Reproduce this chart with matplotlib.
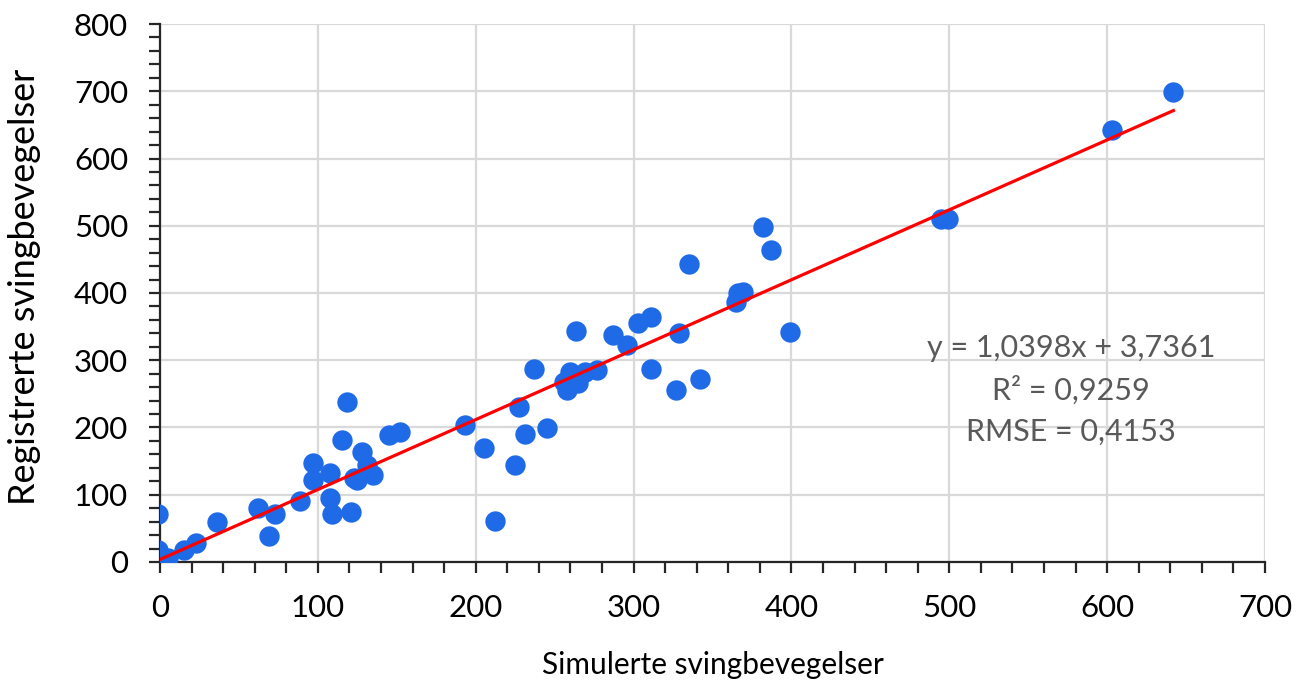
import matplotlib
matplotlib.use("Agg")
import matplotlib.pyplot as plt
from matplotlib.ticker import MultipleLocator
import numpy as np

plt.rcParams['font.family'] = ['Lato', 'DejaVu Sans']

# Simulated vs. registered turning movements
simulated = [
    -1, -1, 1, 5, 15, 23, 36, 62, 69, 73, 89, 97, 97, 108, 108, 109, 115, 118.5,
    121, 123, 125, 128, 131, 135, 145, 152, 193, 205, 212, 225, 227.5, 231,
    237, 245, 256, 258, 260, 263.5, 265, 269, 277, 287, 296, 303, 311, 311,
    327, 329, 335, 342, 365, 366, 369.5, 382, 387, 399, 495, 499, 603, 642,
]
registered = [
    72, 18, 3, 6, 18, 28, 60, 80, 38, 72, 90, 147, 122, 132, 95, 72, 181, 238,
    75, 125, 122, 164, 144, 129, 189, 194, 204, 170, 61, 144, 231, 191,
    287, 199, 268, 256, 283, 343, 266, 283, 286, 338, 323, 355, 364, 287,
    256, 340, 443, 272, 387, 400, 401, 498, 464, 342, 510, 510, 642, 699,
]

slope, intercept = 1.0398, 3.7361
r2, rmse = 0.9259, 0.4153

x_ticks = [0, 100, 200, 300, 400, 500, 600, 700]
y_ticks = [0, 100, 200, 300, 400, 500, 600, 700, 800]

fig = plt.figure(figsize=(13.03, 6.86), dpi=100)
ax = fig.add_axes([0.1228, 0.1808, 0.8480, 0.7842])

ax.scatter(simulated, registered, s=215, color='#1F6AE6', zorder=3, linewidths=0)

x_fit = np.array([min(simulated) + 1, max(simulated)])
ax.plot(x_fit, slope * x_fit + intercept, color='#FF0000', lw=2.3, zorder=4)

ax.set_xlim(0, 700)
ax.set_ylim(0, 800)
ax.set_xticks(x_ticks)
ax.set_yticks(y_ticks)
ax.xaxis.set_minor_locator(MultipleLocator(20))
ax.yaxis.set_minor_locator(MultipleLocator(20))
ax.tick_params(which='both', direction='out', length=8, width=1.6, colors='#262626',
               labelsize=22.5, labelcolor='black')
ax.tick_params(axis='x', which='major', pad=15)
ax.tick_params(axis='y', which='major', pad=15)

ax.grid(True, which='major', color='#D9D9D9', lw=1.6, zorder=0)
ax.set_axisbelow(True)
for side in ('top', 'right'):
    ax.spines[side].set_visible(False)
for side in ('left', 'bottom'):
    ax.spines[side].set_linewidth(1.6)
    ax.spines[side].set_color('#262626')
ax.margins(0)

ax.set_xlabel('Simulerte svingbevegelser', fontsize=21.5)
ax.set_ylabel('Registrerte svingbevegelser', fontsize=26)
ax.xaxis.set_label_coords(0.5, -0.166)
ax.yaxis.set_label_coords(-0.108, 0.511)

eq = (f"y = {slope:.4f}x + {intercept:.4f}".replace('.', ',') + "\n"
      + f"R² = {r2:.4f}".replace('.', ',') + "\n"
      + f"RMSE = {rmse:.4f}".replace('.', ','))
ax.text(577, 256, eq, ha='center', va='center', fontsize=22, color='#595959',
        linespacing=1.57, zorder=5)

fig.savefig('out.png', dpi=100)
